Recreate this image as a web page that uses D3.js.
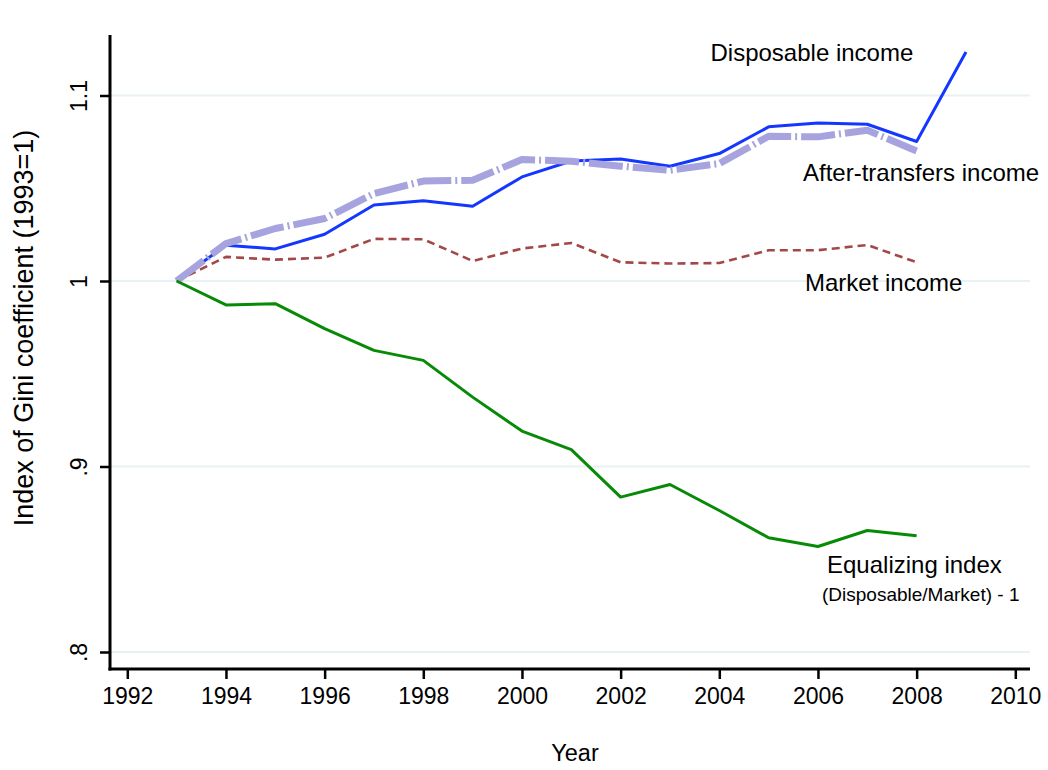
<!DOCTYPE html>
<html>
<head>
<meta charset="utf-8">
<script src="https://cdn.jsdelivr.net/npm/d3@7"></script>
<style>
  html, body { margin: 0; padding: 0; background: #fff; }
  svg { display: block; font-family: "Liberation Sans", Arial, Helvetica, sans-serif; }
</style>
</head>
<body>
<svg id="chart" width="1048" height="770"></svg>
<script>
// Gini coefficient indices, 1993 = 1
const years = [1993, 1994, 1995, 1996, 1997, 1998, 1999, 2000, 2001, 2002, 2003, 2004, 2005, 2006, 2007, 2008, 2009];
const disposable = [1.000, 1.0193, 1.0173, 1.0252, 1.0410, 1.0432, 1.0403, 1.0561, 1.0647, 1.0658, 1.0619, 1.0687, 1.0831, 1.0852, 1.0845, 1.0752, 1.1235];
const afterTransfers = [1.000, 1.0202, 1.0283, 1.0337, 1.0471, 1.0539, 1.0543, 1.0655, 1.0646, 1.0619, 1.0597, 1.0633, 1.0780, 1.0777, 1.0813, 1.0701];
const market = [1.000, 1.0130, 1.0115, 1.0126, 1.0227, 1.0225, 1.0108, 1.0175, 1.0205, 1.0101, 1.0094, 1.0097, 1.0166, 1.0166, 1.0194, 1.0101];
const equalizing = [1.000, 0.9871, 0.9878, 0.9743, 0.9626, 0.9572, 0.9374, 0.9191, 0.9091, 0.8835, 0.8903, 0.8763, 0.8616, 0.8569, 0.8655, 0.8627];

const xTicks = [1992, 1994, 1996, 1998, 2000, 2002, 2004, 2006, 2008, 2010];
const yTicks = [0.8, 0.9, 1.0, 1.1];
const yTickLabels = [".8", ".9", "1", "1.1"];

const svg = d3.select("#chart");

const x = d3.scaleLinear().domain([1992, 2010]).range([127.3, 1015.3]);
const y = d3.scaleLinear().domain([0.8, 1.1]).range([652, 95.5]);

const frame = { left: 110, right: 1030, top: 35, bottom: 669 };

// horizontal grid lines
svg.append("g")
  .selectAll("line")
  .data(yTicks)
  .join("line")
  .attr("x1", frame.left)
  .attr("x2", frame.right)
  .attr("y1", d => y(d))
  .attr("y2", d => y(d))
  .attr("stroke", "#e9f2f2")
  .attr("stroke-width", 2);

// series lines
const line = d3.line()
  .x((d, i) => x(years[i]))
  .y(d => y(d));

const series = [
  { values: disposable, color: "#1437ff", width: 3, dash: null },
  { values: market, color: "#a34848", width: 2.6, dash: "8,5" },
  { values: afterTransfers, color: "#a6a3de", width: 7, dash: "34,4,2,4" },
  { values: equalizing, color: "#078b07", width: 3, dash: null }
];

svg.append("g")
  .selectAll("path")
  .data(series)
  .join("path")
  .attr("d", d => line(d.values))
  .attr("fill", "none")
  .attr("stroke", d => d.color)
  .attr("stroke-width", d => d.width)
  .attr("stroke-dasharray", d => d.dash)
  .attr("stroke-linejoin", "round");

// x axis
const xAxis = d3.axisBottom(x)
  .tickValues(xTicks)
  .tickFormat(d3.format("d"))
  .tickSize(10)
  .tickPadding(9);

const gx = svg.append("g")
  .attr("transform", `translate(0,${frame.bottom})`)
  .call(xAxis);
gx.select(".domain").remove();
gx.selectAll(".tick line").attr("stroke", "#000").attr("stroke-width", 2.5);
gx.selectAll(".tick text")
  .attr("fill", "#000")
  .attr("font-size", 23)
  .attr("font-family", "Liberation Sans, Arial, sans-serif");

// y axis
const yAxis = d3.axisLeft(y)
  .tickValues(yTicks)
  .tickFormat((d, i) => yTickLabels[i])
  .tickSize(10);

const gy = svg.append("g")
  .attr("transform", `translate(${frame.left},0)`)
  .call(yAxis);
gy.select(".domain").remove();
gy.selectAll(".tick line").attr("stroke", "#000").attr("stroke-width", 2.5);
gy.selectAll(".tick text")
  .attr("fill", "#000")
  .attr("font-size", 23)
  .attr("font-family", "Liberation Sans, Arial, sans-serif")
  .attr("text-anchor", "middle")
  .attr("dy", null)
  .attr("x", null)
  .attr("transform", "translate(-23,0) rotate(-90)");

// axis lines
svg.append("line")
  .attr("x1", frame.left).attr("x2", frame.left)
  .attr("y1", frame.top).attr("y2", frame.bottom + 1.5)
  .attr("stroke", "#000").attr("stroke-width", 3);
svg.append("line")
  .attr("x1", frame.left - 1.5).attr("x2", frame.right)
  .attr("y1", frame.bottom).attr("y2", frame.bottom)
  .attr("stroke", "#000").attr("stroke-width", 3);

// axis titles
svg.append("text")
  .attr("x", 575).attr("y", 761)
  .attr("text-anchor", "middle")
  .attr("font-size", 23.5)
  .text("Year");

svg.append("text")
  .attr("transform", "translate(33,328) rotate(-90)")
  .attr("text-anchor", "middle")
  .attr("font-size", 27)
  .text("Index of Gini coefficient (1993=1)");

// series labels
const labels = [
  { text: "Disposable income", x: 710.5, y: 61, size: 24 },
  { text: "After-transfers income", x: 803, y: 181, size: 24 },
  { text: "Market income", x: 805, y: 291, size: 24 },
  { text: "Equalizing index", x: 827, y: 573, size: 24 },
  { text: "(Disposable/Market) - 1", x: 822, y: 600.5, size: 19 }
];

svg.append("g")
  .selectAll("text")
  .data(labels)
  .join("text")
  .attr("x", d => d.x)
  .attr("y", d => d.y)
  .attr("font-size", d => d.size)
  .attr("fill", "#000")
  .text(d => d.text);
</script>
</body>
</html>
